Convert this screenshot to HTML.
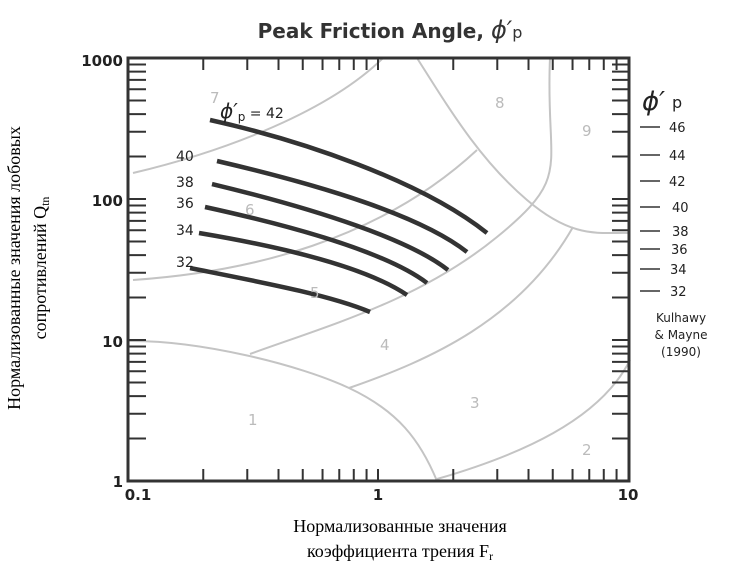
<!DOCTYPE html>
<html><head><meta charset="utf-8"><style>
html,body{margin:0;padding:0;background:#fff;width:742px;height:575px;overflow:hidden}
svg{position:absolute;left:0;top:0}
.s{font-family:"Liberation Serif",serif;font-size:18px;fill:#000}
.a{font-family:"DejaVu Sans","Liberation Sans",sans-serif;fill:#222}
.g{font-family:"DejaVu Sans","Liberation Sans",sans-serif;fill:#bbb;font-size:15px}
</style></head><body>
<svg id="c" width="742" height="575" xmlns="http://www.w3.org/2000/svg">
<text x="390" y="38" text-anchor="middle" class="a" style="font-size:20px;fill:#333;font-weight:bold">Peak Friction Angle, <tspan font-style="italic" font-size="24" font-weight="normal">ϕ′</tspan><tspan font-size="16" font-weight="normal">p</tspan></text>
<g fill="none" stroke="#c4c4c4" stroke-width="2">
<path d="M128,341 C200,340 300,365 349,388 S420,440 437,481"/>
<path d="M250,354 C330,325 420,300 497,237 S545,170 550,58"/>
<path d="M133,280 C250,272 380,240 477,150"/>
<path d="M133,173 C230,150 330,110 383,58"/>
<path d="M417,58 C450,110 480,160 527,200 S600,232 630,233"/>
<path d="M349,388 C430,360 520,320 573,227"/>
<path d="M437,479 C520,455 600,420 630,360"/>
</g>
<g fill="none" stroke="#333" stroke-width="4.5" stroke-linecap="butt">
<path d="M210,120 C300,140 420,180 487,233"/>
<path d="M217,161 C320,185 420,215 467,252"/>
<path d="M212,184 C320,210 410,240 448,270"/>
<path d="M205,207 C310,230 390,255 427,283"/>
<path d="M199,233 C300,250 370,270 407,295"/>
<path d="M190,268 C260,282 330,295 370,312"/>
</g>
<g class="g"><text x="210" y="103">7</text><text x="245" y="215">6</text><text x="310" y="298">5</text><text x="380" y="350">4</text><text x="470" y="408">3</text><text x="248" y="425">1</text><text x="582" y="455">2</text><text x="495" y="108">8</text><text x="582" y="136">9</text></g>
<g class="a" style="font-size:14px">
<text x="220" y="118"><tspan font-style="italic" font-size="20">ϕ′</tspan><tspan font-size="12" dy="3">p</tspan><tspan dy="-3"> = 42</tspan></text>
<text x="176" y="161">40</text><text x="176" y="187">38</text><text x="176" y="208">36</text><text x="176" y="235">34</text><text x="176" y="267">32</text>
</g>
<g class="a" style="font-size:13px">
<text x="642" y="110" style="font-size:26px;font-style:italic">ϕ′</text><text x="672" y="108" style="font-size:16px">p</text>
<text x="669" y="132">46</text><text x="669" y="160">44</text><text x="669" y="186">42</text><text x="672" y="212">40</text><text x="672" y="236">38</text><text x="671" y="254">36</text><text x="670" y="274">34</text><text x="670" y="296">32</text>
<text x="681" y="322" text-anchor="middle" font-size="12">Kulhawy</text><text x="681" y="339" text-anchor="middle" font-size="12">&amp; Mayne</text><text x="681" y="356" text-anchor="middle" font-size="12">(1990)</text>
</g>
<g stroke="#333" stroke-width="1.5">
<line x1="640" x2="660" y1="127" y2="127"/><line x1="640" x2="660" y1="155" y2="155"/><line x1="640" x2="660" y1="181" y2="181"/><line x1="640" x2="660" y1="207" y2="207"/><line x1="640" x2="660" y1="231" y2="231"/><line x1="640" x2="660" y1="249" y2="249"/><line x1="640" x2="660" y1="269" y2="269"/><line x1="640" x2="660" y1="291" y2="291"/>
</g>
<g id="ticks" stroke="#333" stroke-width="2"></g>
<rect x="128" y="58" width="501" height="423" fill="none" stroke="#333" stroke-width="3"/>
<g class="a" style="font-size:15px;font-weight:bold">
<text x="123" y="66" text-anchor="end">1000</text><text x="123" y="206" text-anchor="end">100</text><text x="123" y="347" text-anchor="end">10</text><text x="123" y="487" text-anchor="end">1</text>
<text x="138" y="500" text-anchor="middle">0.1</text><text x="378" y="500" text-anchor="middle">1</text><text x="628" y="500" text-anchor="middle">10</text>
</g>
<text class="s" x="400" y="532" text-anchor="middle">Нормализованные значения</text>
<text class="s" x="400" y="557" text-anchor="middle">коэффициента трения F<tspan font-size="12" dy="3">r</tspan></text>
<text class="s" transform="translate(20,268) rotate(-90)" text-anchor="middle">Нормализованные значения лобовых</text>
<text class="s" transform="translate(46,268) rotate(-90)" text-anchor="middle">сопротивлений Q<tspan font-size="12" dy="3">tn</tspan></text>
</svg>
<script>
var g=document.getElementById('ticks'),h='';
for(var d=0;d<2;d++)for(var k=1;k<10;k++){var x=128+250*(d+Math.log10(k));
 h+='<line x1="'+x+'" x2="'+x+'" y1="58" y2="70"/><line x1="'+x+'" x2="'+x+'" y1="481" y2="469"/>';}
for(var d=0;d<3;d++)for(var k=1;k<10;k++){var y=481-141*(d+Math.log10(k));
 h+='<line x1="128" x2="146" y1="'+y+'" y2="'+y+'"/><line x1="629" x2="612" y1="'+y+'" y2="'+y+'"/>';}
g.innerHTML=h;
</script>
</body></html>
